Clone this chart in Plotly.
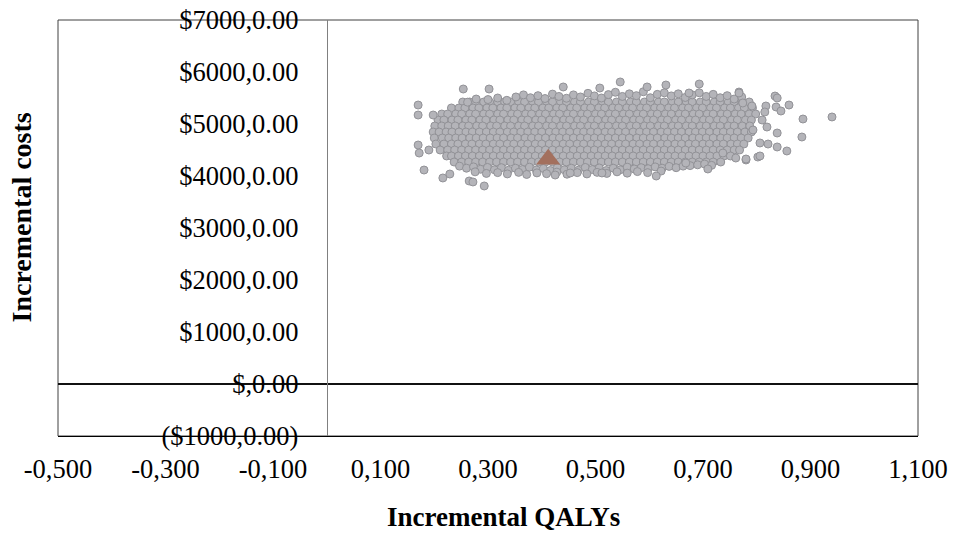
import plotly.graph_objects as go

# ---- Data ----
x_tickvals = [-0.5, -0.3, -0.1, 0.1, 0.3, 0.5, 0.7, 0.9, 1.1]
x_ticktext = ["-0,500", "-0,300", "-0,100", "0,100", "0,300", "0,500", "0,700", "0,900", "1,100"]
y_tickvals = [-1000, 0, 1000, 2000, 3000, 4000, 5000, 6000, 7000]
y_ticktext = ["($1000,0.00)", "$,0.00", "$1000,0.00", "$2000,0.00", "$3000,0.00",
              "$4000,0.00", "$5000,0.00", "$6000,0.00", "$7000,0.00"]

# dense core of the bootstrap cloud, one list of QALYs per cost level
row_costs = [5423, 5308, 5192, 5077, 4962, 4846, 4731, 4615, 4500, 4385, 4269]
row_qalys = [
    [0.253, 0.266, 0.277, 0.292, 0.303, 0.318, 0.331, 0.342, 0.357, 0.368, 0.383, 0.394, 0.409, 0.420, 0.435, 0.446,
     0.461, 0.472, 0.487, 0.498, 0.513, 0.524, 0.539, 0.550, 0.565, 0.576, 0.591, 0.602, 0.617, 0.628, 0.643, 0.654,
     0.669, 0.680, 0.695, 0.706, 0.721, 0.732, 0.747, 0.758, 0.773, 0.786],
    [0.232, 0.246, 0.257, 0.272, 0.283, 0.298, 0.309, 0.324, 0.335, 0.350, 0.361, 0.376, 0.387, 0.402, 0.413, 0.428,
     0.439, 0.454, 0.465, 0.480, 0.491, 0.506, 0.517, 0.532, 0.543, 0.558, 0.569, 0.584, 0.595, 0.610, 0.621, 0.636,
     0.647, 0.662, 0.673, 0.688, 0.699, 0.714, 0.725, 0.740, 0.751, 0.766, 0.777, 0.792],
    [0.214, 0.225, 0.240, 0.251, 0.266, 0.277, 0.292, 0.303, 0.318, 0.329, 0.344, 0.355, 0.370, 0.381, 0.396, 0.407,
     0.422, 0.433, 0.448, 0.459, 0.474, 0.485, 0.500, 0.511, 0.526, 0.537, 0.552, 0.563, 0.578, 0.589, 0.604, 0.615,
     0.630, 0.641, 0.656, 0.667, 0.682, 0.693, 0.708, 0.719, 0.734, 0.745, 0.760, 0.771, 0.786, 0.798],
    [0.207, 0.218, 0.233, 0.244, 0.259, 0.270, 0.285, 0.296, 0.311, 0.322, 0.337, 0.348, 0.363, 0.374, 0.389, 0.400,
     0.415, 0.426, 0.441, 0.452, 0.467, 0.478, 0.493, 0.504, 0.519, 0.530, 0.545, 0.556, 0.571, 0.582, 0.597, 0.608,
     0.623, 0.634, 0.649, 0.660, 0.675, 0.686, 0.701, 0.712, 0.727, 0.738, 0.753, 0.764, 0.779, 0.790],
    [0.201, 0.214, 0.226, 0.239, 0.253, 0.264, 0.279, 0.290, 0.305, 0.316, 0.331, 0.342, 0.357, 0.368, 0.383, 0.394,
     0.409, 0.420, 0.435, 0.446, 0.461, 0.472, 0.487, 0.498, 0.513, 0.524, 0.539, 0.550, 0.565, 0.576, 0.591, 0.602,
     0.617, 0.628, 0.643, 0.654, 0.669, 0.680, 0.695, 0.706, 0.721, 0.732, 0.747, 0.758, 0.773, 0.787],
    [0.198, 0.209, 0.222, 0.233, 0.246, 0.259, 0.271, 0.284, 0.297, 0.310, 0.322, 0.336, 0.348, 0.361, 0.374, 0.387,
     0.400, 0.414, 0.426, 0.439, 0.452, 0.466, 0.478, 0.491, 0.504, 0.518, 0.530, 0.543, 0.556, 0.570, 0.582, 0.595,
     0.608, 0.622, 0.634, 0.647, 0.660, 0.674, 0.686, 0.699, 0.712, 0.726, 0.738, 0.751, 0.764, 0.778, 0.790],
    [0.200, 0.215, 0.227, 0.240, 0.252, 0.266, 0.278, 0.291, 0.304, 0.317, 0.329, 0.343, 0.355, 0.369, 0.381, 0.394,
     0.407, 0.421, 0.433, 0.446, 0.459, 0.472, 0.485, 0.498, 0.511, 0.524, 0.537, 0.550, 0.563, 0.577, 0.589, 0.602,
     0.615, 0.629, 0.641, 0.654, 0.667, 0.681, 0.693, 0.706, 0.719, 0.733, 0.745, 0.758, 0.771, 0.784],
    [0.203, 0.218, 0.232, 0.244, 0.258, 0.270, 0.284, 0.296, 0.310, 0.322, 0.336, 0.348, 0.362, 0.374, 0.388, 0.400,
     0.414, 0.426, 0.440, 0.452, 0.466, 0.478, 0.492, 0.504, 0.518, 0.530, 0.544, 0.556, 0.570, 0.582, 0.596, 0.608,
     0.622, 0.634, 0.648, 0.660, 0.674, 0.686, 0.700, 0.712, 0.726, 0.738, 0.752, 0.764, 0.776],
    [0.211, 0.225, 0.238, 0.251, 0.264, 0.277, 0.290, 0.303, 0.316, 0.329, 0.342, 0.355, 0.368, 0.381, 0.394, 0.407,
     0.420, 0.433, 0.446, 0.459, 0.472, 0.485, 0.498, 0.511, 0.524, 0.537, 0.550, 0.563, 0.576, 0.589, 0.602, 0.615,
     0.628, 0.641, 0.654, 0.667, 0.680, 0.693, 0.706, 0.719, 0.732, 0.745, 0.758, 0.768],
    [0.223, 0.232, 0.245, 0.258, 0.271, 0.284, 0.297, 0.310, 0.323, 0.336, 0.349, 0.362, 0.375, 0.388, 0.401, 0.414,
     0.427, 0.440, 0.453, 0.466, 0.479, 0.492, 0.505, 0.518, 0.531, 0.544, 0.557, 0.570, 0.583, 0.596, 0.609, 0.622,
     0.635, 0.648, 0.661, 0.674, 0.687, 0.700, 0.713, 0.726, 0.739, 0.751],
    [0.237, 0.251, 0.264, 0.277, 0.290, 0.303, 0.316, 0.329, 0.342, 0.355, 0.368, 0.381, 0.394, 0.407, 0.420, 0.433,
     0.446, 0.459, 0.472, 0.485, 0.498, 0.511, 0.524, 0.537, 0.550, 0.563, 0.576, 0.589, 0.602, 0.615, 0.628, 0.641,
     0.654, 0.667, 0.680, 0.693, 0.706, 0.719, 0.733],
]

# ragged edges and outlying simulations
edge_qaly = [
    # top edge
    0.262, 0.278, 0.300, 0.318, 0.335, 0.352, 0.366, 0.379, 0.393, 0.406, 0.420, 0.432, 0.446, 0.459, 0.472, 0.486,
    0.498, 0.511, 0.524, 0.537, 0.550, 0.563, 0.576, 0.589, 0.602, 0.615, 0.628, 0.641, 0.654, 0.667, 0.680, 0.693,
    0.706, 0.719, 0.732, 0.745, 0.758, 0.772,
    # bottom edge
    0.247, 0.260, 0.273, 0.286, 0.299, 0.312, 0.325, 0.338, 0.351, 0.364, 0.377, 0.390, 0.403, 0.416, 0.429, 0.442,
    0.455, 0.468, 0.481, 0.494, 0.507, 0.520, 0.533, 0.546, 0.559, 0.572, 0.585, 0.598, 0.611, 0.624, 0.637, 0.650,
    0.663, 0.676, 0.690, 0.703, 0.716,
    0.276, 0.297, 0.318, 0.336, 0.357, 0.372, 0.391, 0.409, 0.428, 0.447, 0.466, 0.484, 0.503, 0.521, 0.540, 0.559,
    0.578, 0.597, 0.622,
    # outliers
    0.170, 0.170, 0.198, 0.170, 0.172, 0.190, 0.181, 0.216, 0.229, 0.265, 0.272, 0.293, 0.254, 0.302, 0.440, 0.508,
    0.546, 0.596, 0.631, 0.693, 0.674, 0.767, 0.425, 0.453, 0.512, 0.613, 0.668, 0.709, 0.780, 0.802, 0.834, 0.838,
    0.817, 0.815, 0.836, 0.845, 0.860, 0.886, 0.940, 0.884, 0.838, 0.819, 0.810, 0.806, 0.821, 0.838, 0.856, 0.806,
    0.774, 0.791, 0.767, 0.793, 0.780, 0.761, 0.737,
]
edge_cost = [
    5420, 5480, 5470, 5500, 5455, 5520, 5560, 5505, 5545, 5490, 5575, 5530, 5495, 5560, 5520, 5590,
    5540, 5500, 5565, 5610, 5530, 5580, 5545, 5620, 5505, 5570, 5600, 5540, 5580, 5510, 5560, 5600,
    5530, 5570, 5505, 5545, 5480, 5520,
    4190, 4150, 4175, 4130, 4165, 4120, 4160, 4110, 4150, 4125, 4170, 4115, 4145, 4105, 4160, 4120,
    4150, 4110, 4165, 4125, 4155, 4105, 4150, 4120, 4170, 4135, 4160, 4140, 4175, 4150, 4185, 4160,
    4190, 4200, 4215, 4230, 4205,
    4080, 4050, 4065, 4040, 4070, 4030, 4060, 4045, 4075, 4035, 4065, 4040, 4070, 4050, 4080, 4055,
    4085, 4065, 4095,
    5365, 5173, 5173, 4596, 4442, 4500, 4115, 3962, 4038, 3904, 3885, 3808, 5673, 5673, 5712, 5692,
    5808, 5712, 5750, 5769, 5596, 5615, 4019, 4058, 4058, 4000, 4250, 4135, 4308, 4365, 5538, 5500,
    5346, 5231, 5327, 5250, 5365, 5096, 5135, 4750, 4827, 4942, 5077, 4635, 4615, 4558, 4481, 4385,
    5404, 5346, 5596, 4885, 4327, 4346, 4442,
]

mean_qaly = [0.412]
mean_cost = [4320]

# ---- assemble the simulation table ----
sim_qaly, sim_cost = [], []
for c, qs in zip(row_costs, row_qalys):
    for q in qs:
        sim_qaly.append(q)
        sim_cost.append(c)
sim_qaly += edge_qaly
sim_cost += edge_cost

SERIF = "Liberation Serif, Times New Roman, serif"
TICKFONT = dict(family=SERIF, size=26.5, color="black")

fig = go.Figure()
fig.add_trace(go.Scatter(
    x=sim_qaly, y=sim_cost, mode="markers",
    marker=dict(size=8, color="#B4B4B9", line=dict(color="#929297", width=1)),
    showlegend=False, hoverinfo="skip"))
fig.add_trace(go.Scatter(
    x=mean_qaly, y=mean_cost, mode="markers",
    marker=dict(symbol="triangle-up", size=21, color="#A3705E", line=dict(width=0)),
    showlegend=False))

fig.update_layout(
    width=954, height=536, autosize=False,
    margin=dict(l=58, r=36, t=20, b=100),
    paper_bgcolor="white", plot_bgcolor="white",
    font=dict(family=SERIF, size=26.5, color="black"),
    xaxis=dict(range=[-0.5, 1.1], tickvals=x_tickvals, ticktext=x_ticktext, automargin=False,
               showgrid=False, zeroline=False, showline=True, linecolor="black", linewidth=1,
               ticks="", ticklabelstandoff=9, tickfont=TICKFONT),
    yaxis=dict(range=[-1000, 7000], tickvals=y_tickvals, ticktext=y_ticktext, automargin=False,
               anchor="free", position=0.3125,
               showgrid=False, zeroline=True, zerolinecolor="#111111", zerolinewidth=2,
               showline=True, linecolor="#808080", linewidth=1,
               ticks="", ticklabelstandoff=23, tickfont=TICKFONT),
    shapes=[dict(type="rect", xref="paper", yref="paper", x0=0, x1=1, y0=0, y1=1,
                 line=dict(color="#404040", width=1), layer="below")],
    annotations=[
        dict(text="<b>Incremental QALYs</b>", xref="paper", yref="paper", x=0.518, y=-0.194,
             xanchor="center", yanchor="middle", showarrow=False,
             font=dict(family=SERIF, size=27, color="black")),
        dict(text="<b>Incremental costs</b>", xref="paper", yref="paper", x=-0.042, y=0.525,
             xanchor="center", yanchor="middle", textangle=-90, showarrow=False,
             font=dict(family=SERIF, size=28, color="black")),
    ],
)

fig.write_html("out.html", config={"displayModeBar": False},
               post_script="document.body.style.margin='0px';document.body.style.overflow='hidden';")
